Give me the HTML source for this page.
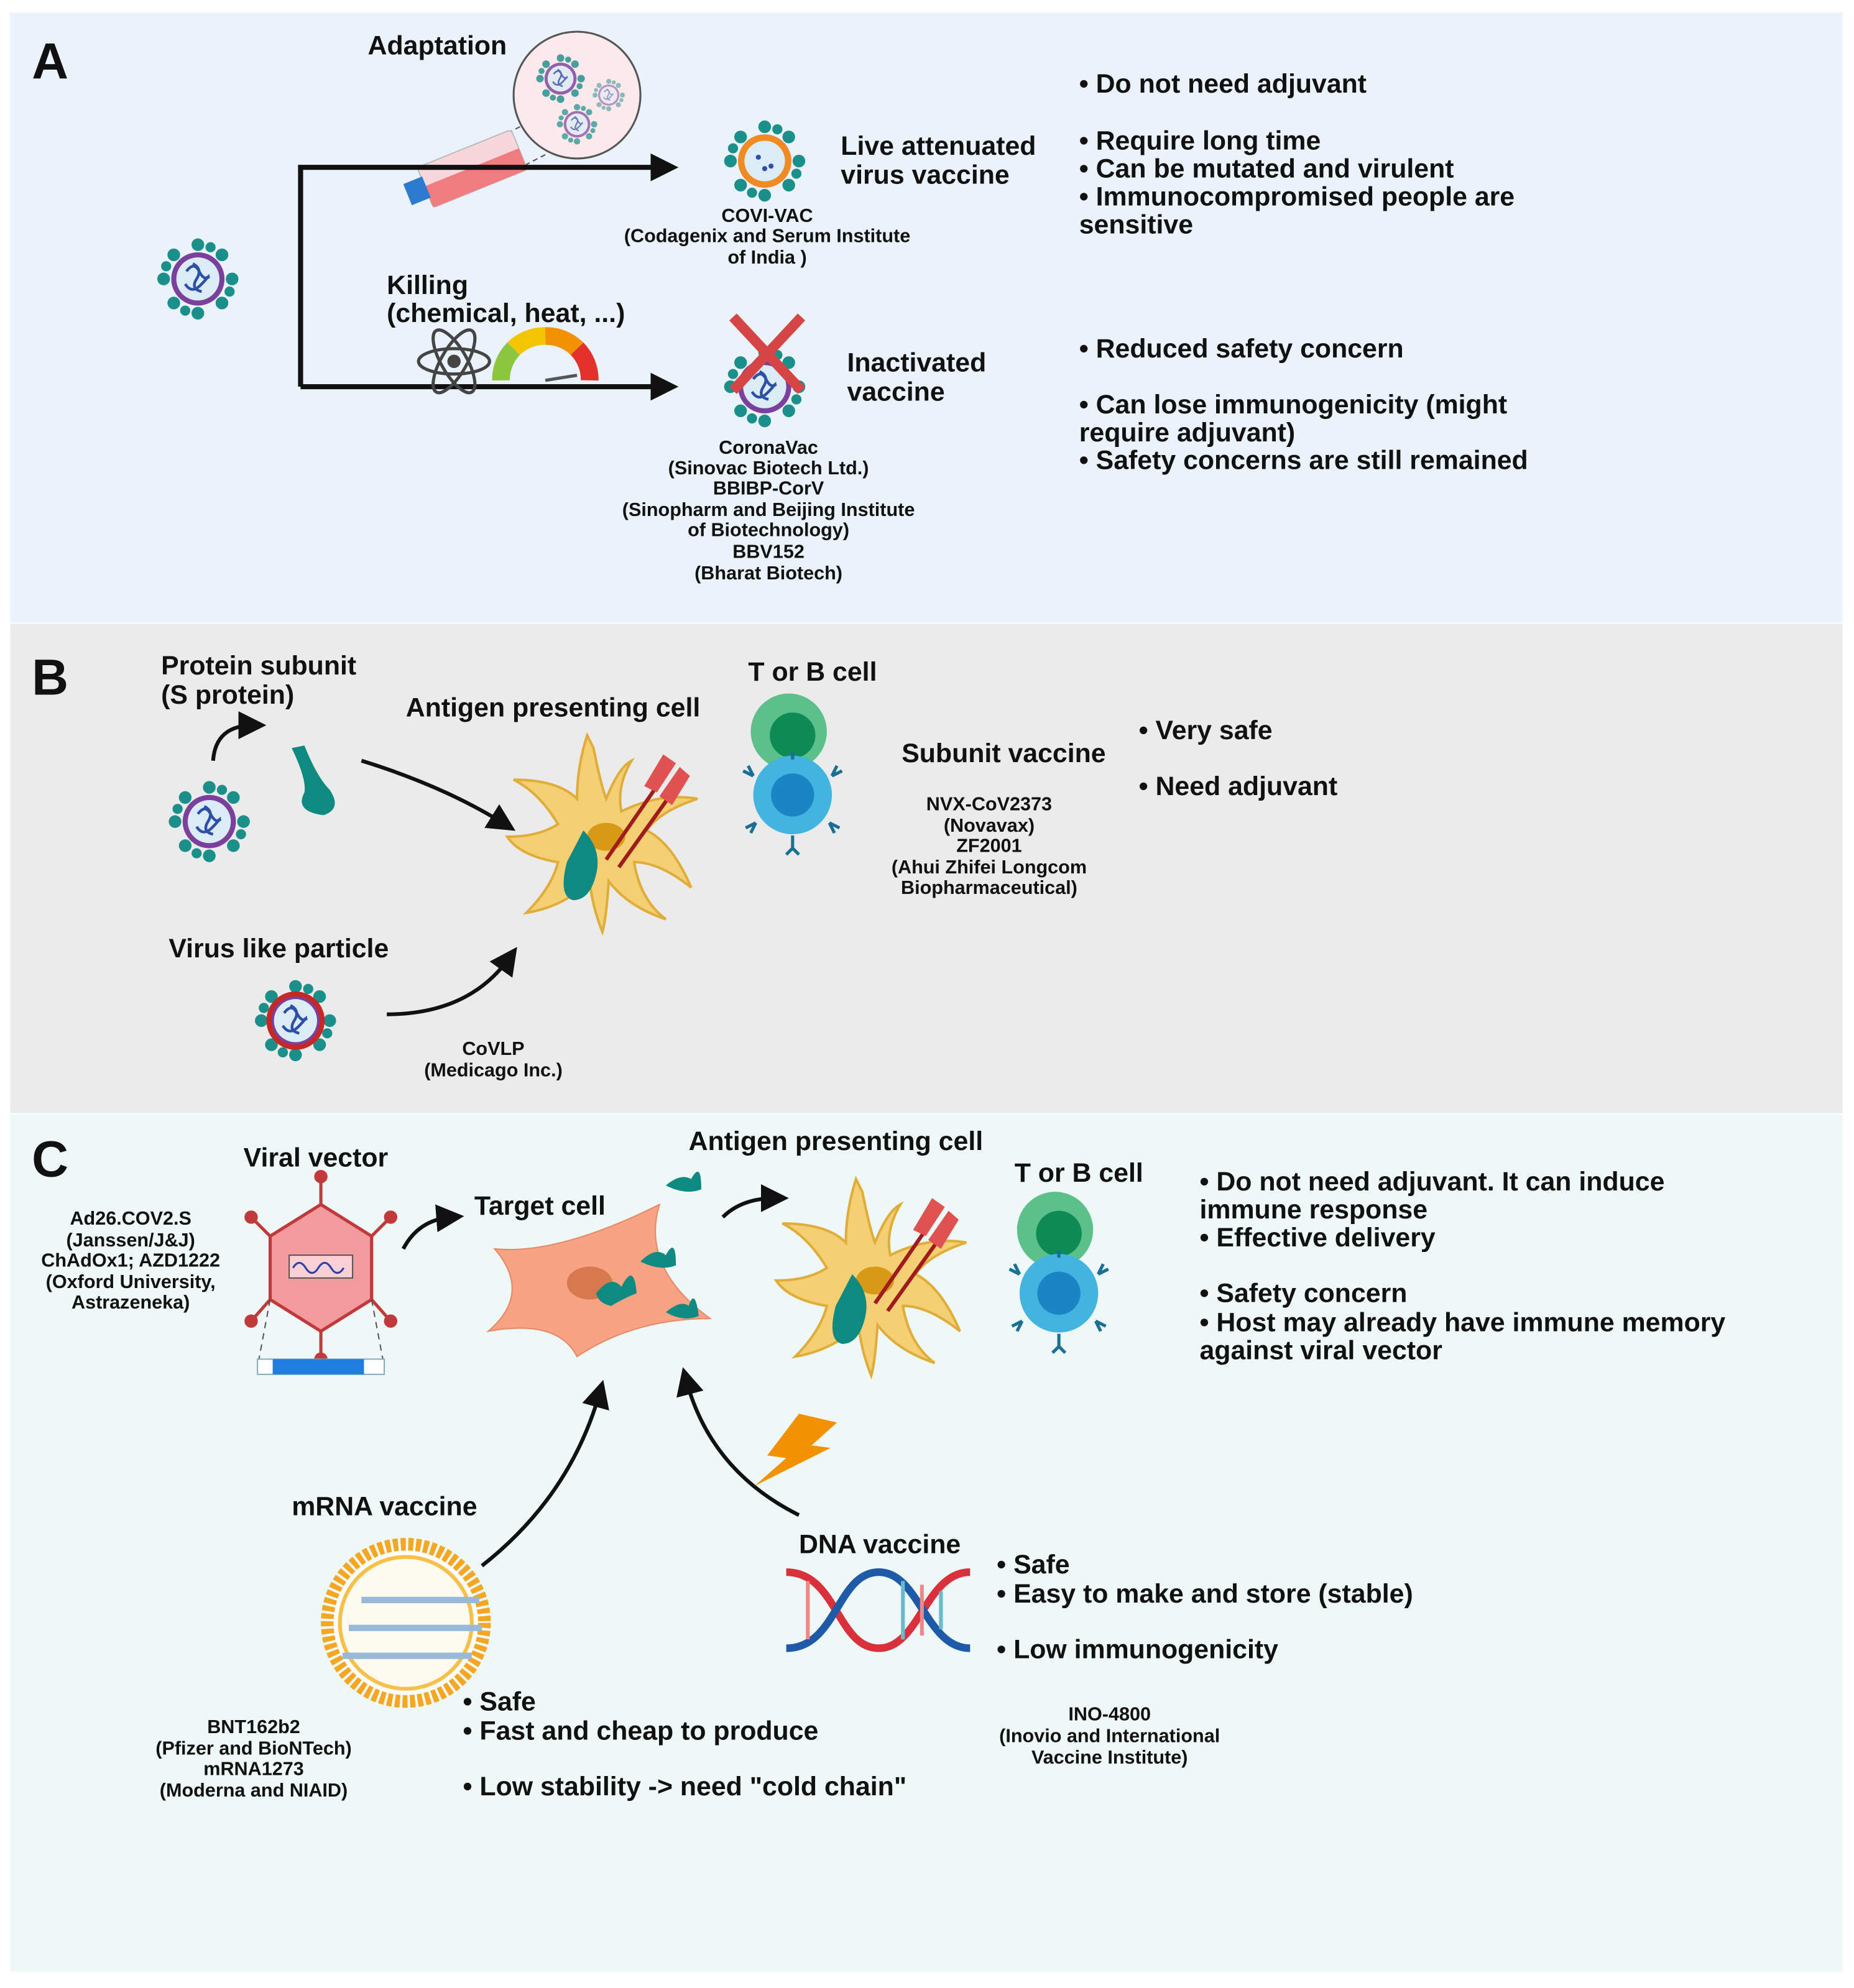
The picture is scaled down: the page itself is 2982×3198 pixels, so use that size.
<!DOCTYPE html>
<html><head><meta charset="utf-8"><style>
html,body{margin:0;padding:0;background:#fff}
svg{display:block}
text{font-family:"Liberation Sans",sans-serif;font-weight:bold;fill:#111}
.b{font-size:21px}.s{font-size:15px}.c{text-anchor:middle}.L{font-size:40px}
</style></head><body>
<svg width="2982" height="3198" viewBox="0 0 1462 1568" xmlns="http://www.w3.org/2000/svg">
<defs>
<marker id="ah" markerWidth="10" markerHeight="10" refX="6" refY="5" orient="auto" markerUnits="userSpaceOnUse" viewBox="0 0 10 10"><path d="M0,0 L10,5 L0,10 z" fill="#111"/></marker>
<marker id="ah2" markerWidth="22" markerHeight="22" refX="12" refY="11" orient="auto" markerUnits="userSpaceOnUse" viewBox="0 0 22 22"><path d="M0,0 L22,11 L0,22 z" fill="#111"/></marker>
<g id="virus">
 <g fill="#1b8f8a">
  <circle cx="0" cy="-27" r="5"/><circle cx="0" cy="27" r="5"/><circle cx="-27" cy="0" r="5"/><circle cx="27" cy="0" r="5"/>
  <circle cx="19" cy="19" r="5"/><circle cx="-19" cy="19" r="5"/><circle cx="19" cy="-19" r="5"/><circle cx="-19" cy="-19" r="5"/>
  <circle cx="10" cy="-25" r="4"/><circle cx="-10" cy="25" r="4"/><circle cx="25" cy="10" r="4"/><circle cx="-25" cy="-10" r="4"/>
 </g>
 <circle r="21" fill="#7b3f9c"/><circle r="17" fill="#dcecf7"/>
 <path d="M-9,-6 q6,-8 10,0 t8,4 M-10,4 q5,8 12,1 t6,-8 M-4,-12 q8,4 3,12 t4,10" stroke="#2d4fa8" stroke-width="2.2" fill="none"/>
</g>
<g id="apc">
 <path d="M-10,-60 q6,30 10,40 q10,-25 20,-30 q-12,20 -8,40 q30,-15 60,-10 q-30,10 -40,25 q20,10 35,45 q-25,-20 -45,-20 q5,30 25,45 q-30,-10 -45,-30 q-2,30 -5,40 q-8,-20 -10,-40 q-20,20 -50,25 q20,-20 25,-40 q-30,-5 -40,-20 q25,0 40,-10 q-15,-25 -35,-35 q35,0 50,15 q0,-25 8,-50z" fill="#f5cf73" stroke="#e0ad3a" stroke-width="2"/>
 <ellipse cx="0" cy="10" rx="15" ry="11" fill="#d89a16"/>
 <path d="M-18,5 q15,15 10,35 q-5,20 -18,20 q-12,-3 -5,-30 z" fill="#0f8a80"/>
 <path d="M0,28 L40,-30 M10,34 L50,-22" stroke="#a01b1b" stroke-width="3"/>
 <path d="M30,-30 L45,-55 L55,-48 L40,-25z M42,-22 L58,-45 L66,-38 L52,-15z" fill="#e05252"/>
</g>
<g id="tcell">
 <circle cx="0" cy="0" r="30" fill="#5cc08a"/><circle cx="3" cy="3" r="18" fill="#0e8a55"/>
 <circle cx="3" cy="50" r="31" fill="#43b3e0"/><circle cx="3" cy="50" r="17" fill="#1985c4"/>
 <g stroke="#1a6f95" stroke-width="2.5" fill="none">
  <path d="M-28,35 l-8,-4 M-28,35 l-4,-8"/><path d="M34,35 l8,-4 M34,35 l4,-8"/>
  <path d="M-26,72 l-8,4 M-26,72 l-4,8"/><path d="M32,72 l8,4 M32,72 l4,8"/>
  <path d="M3,82 v10 M3,92 l-5,5 M3,92 l5,5"/><path d="M3,22 v-6"/>
 </g>
</g>
</defs>
<rect width="1462" height="1568" fill="#fff"/>
<rect x="8" y="10" width="1445" height="481" fill="#eaf3fc"/>
<rect x="8" y="492" width="1445" height="386" fill="#ebebeb"/>
<rect x="8" y="879" width="1445" height="676" fill="#eef8f6"/>

<!-- Panel A -->
<text x="25" y="62" class="L">A</text>
<text x="290" y="43" class="b">Adaptation</text>
<circle cx="455" cy="75" r="50" fill="#fbe9ec" stroke="#555" stroke-width="1.5"/>
<path d="M410,100 L360,125 M430,122 L395,140" stroke="#555" stroke-dasharray="4,3"/>
<use href="#virus" transform="translate(442,62) scale(0.6)" opacity="0.8"/>
<use href="#virus" transform="translate(480,75) scale(0.4)" opacity="0.5"/>
<use href="#virus" transform="translate(455,98) scale(0.5)" opacity="0.7"/>
<g transform="translate(372,132) rotate(-22)">
 <rect x="-40" y="-16" width="80" height="34" rx="3" fill="#f7d7db" stroke="#bbb"/>
 <rect x="-40" y="0" width="80" height="18" fill="#ef7d80"/>
 <rect x="-55" y="-8" width="16" height="18" fill="#2b7ccf"/>
</g>
<path d="M237,305 V132 H525" stroke="#111" stroke-width="4" fill="none" marker-end="url(#ah2)"/>
<path d="M237,305 H525" stroke="#111" stroke-width="4" fill="none" marker-end="url(#ah2)"/>
<use href="#virus" transform="translate(156,220)"/>
<g transform="translate(603,127)">
 <use href="#virus"/><circle r="21" fill="#f28a22"/><circle r="16" fill="#dcecf7"/>
 <circle cx="-5" cy="-3" r="2" fill="#2d4fa8"/><circle cx="5" cy="4" r="2" fill="#2d4fa8"/><circle cx="0" cy="6" r="2" fill="#2d4fa8"/>
</g>
<text x="663" y="122" class="b">Live attenuated</text>
<text x="663" y="145" class="b">virus vaccine</text>
<text x="605" y="175" class="s c">COVI-VAC</text>
<text x="605" y="191" class="s c">(Codagenix and Serum Institute</text>
<text x="605" y="208" class="s c">of India )</text>
<text x="851" y="73" class="b">• Do not need adjuvant</text>
<text x="851" y="118" class="b">• Require long time</text>
<text x="851" y="140" class="b">• Can be mutated and virulent</text>
<text x="851" y="162" class="b">• Immunocompromised people are</text>
<text x="851" y="184" class="b">sensitive</text>
<text x="305" y="232" class="b">Killing</text>
<text x="305" y="254" class="b">(chemical, heat, ...)</text>
<g transform="translate(358,285)" stroke="#444" stroke-width="2.5" fill="none">
 <ellipse rx="28" ry="10"/><ellipse rx="28" ry="10" transform="rotate(60)"/><ellipse rx="28" ry="10" transform="rotate(-60)"/>
 <circle r="4" fill="#444"/>
</g>
<g transform="translate(430,300)" fill="none" stroke-width="14">
 <path d="M-35,0 A35,35 0 0 1 -25,-25" stroke="#8cc63f"/>
 <path d="M-25,-25 A35,35 0 0 1 0,-35" stroke="#f2c500"/>
 <path d="M0,-35 A35,35 0 0 1 25,-25" stroke="#f39200"/>
 <path d="M25,-25 A35,35 0 0 1 35,0" stroke="#e4312b"/>
 <path d="M0,0 L25,-4" stroke="#555" stroke-width="2.5"/>
</g>
<use href="#virus" transform="translate(603,305)"/>
<path d="M578,250 L632,308 M632,250 L578,308" stroke="#d64545" stroke-width="8"/>
<text x="668" y="293" class="b">Inactivated</text>
<text x="668" y="316" class="b">vaccine</text>
<text x="606" y="358" class="s c">CoronaVac</text>
<text x="606" y="374" class="s c">(Sinovac Biotech Ltd.)</text>
<text x="606" y="390" class="s c">BBIBP-CorV</text>
<text x="606" y="407" class="s c">(Sinopharm and Beijing Institute</text>
<text x="606" y="423" class="s c">of Biotechnology)</text>
<text x="606" y="440" class="s c">BBV152</text>
<text x="606" y="457" class="s c">(Bharat Biotech)</text>
<text x="851" y="282" class="b">• Reduced safety concern</text>
<text x="851" y="326" class="b">• Can lose immunogenicity (might</text>
<text x="851" y="348" class="b">require adjuvant)</text>
<text x="851" y="370" class="b">• Safety concerns are still remained</text>

<!-- Panel B -->
<text x="25" y="548" class="L">B</text>
<text x="127" y="532" class="b">Protein subunit</text>
<text x="127" y="555" class="b">(S protein)</text>
<use href="#virus" transform="translate(165,648)"/>
<path d="M168,600 Q170,572 200,572" stroke="#111" stroke-width="3" fill="none" marker-end="url(#ah2)"/>
<path d="M230,590 q12,25 10,35 q-8,15 15,18 q15,-5 5,-20 q-10,-10 -20,-35z" fill="#0f8a80"/>
<text x="320" y="565" class="b">Antigen presenting cell</text>
<path d="M285,600 Q350,620 398,650" stroke="#111" stroke-width="3" fill="none" marker-end="url(#ah2)"/>
<use href="#apc" transform="translate(478,650)"/>
<text x="590" y="537" class="b">T or B cell</text>
<use href="#tcell" transform="translate(622,577)"/>
<text x="711" y="601" class="b">Subunit vaccine</text>
<text x="780" y="639" class="s c">NVX-CoV2373</text>
<text x="780" y="656" class="s c">(Novavax)</text>
<text x="780" y="672" class="s c">ZF2001</text>
<text x="780" y="689" class="s c">(Ahui Zhifei Longcom</text>
<text x="780" y="705" class="s c">Biopharmaceutical)</text>
<text x="898" y="583" class="b">• Very safe</text>
<text x="898" y="627" class="b">• Need adjuvant</text>
<text x="133" y="755" class="b">Virus like particle</text>
<g transform="translate(233,805)"><use href="#virus"/><circle r="21" fill="none" stroke="#c62828" stroke-width="4"/></g>
<path d="M305,800 Q370,800 402,755" stroke="#111" stroke-width="3" fill="none" marker-end="url(#ah2)"/>
<text x="389" y="832" class="s c">CoVLP</text>
<text x="389" y="849" class="s c">(Medicago Inc.)</text>

<!-- Panel C -->
<text x="25" y="928" class="L">C</text>
<text x="192" y="920" class="b">Viral vector</text>
<text x="103" y="966" class="s c">Ad26.COV2.S</text>
<text x="103" y="983" class="s c">(Janssen/J&amp;J)</text>
<text x="103" y="999" class="s c">ChAdOx1; AZD1222</text>
<text x="103" y="1016" class="s c">(Oxford University,</text>
<text x="103" y="1032" class="s c">Astrazeneka)</text>
<g transform="translate(253,1000)">
 <g stroke="#c0393b" stroke-width="2.5" fill="#c0393b">
  <line x1="0" y1="-50" x2="0" y2="-72"/><circle cx="0" cy="-72" r="4"/>
  <line x1="0" y1="50" x2="0" y2="72"/><circle cx="0" cy="72" r="4"/>
  <line x1="-40" y1="-25" x2="-55" y2="-40"/><circle cx="-55" cy="-40" r="4"/>
  <line x1="40" y1="-25" x2="55" y2="-40"/><circle cx="55" cy="-40" r="4"/>
  <line x1="-40" y1="25" x2="-55" y2="42"/><circle cx="-55" cy="42" r="4"/>
  <line x1="40" y1="25" x2="55" y2="42"/><circle cx="55" cy="42" r="4"/>
 </g>
 <polygon points="0,-50 40,-25 40,25 0,50 -40,25 -40,-25" fill="#f29a9e" stroke="#c0393b" stroke-width="2.5"/>
 <rect x="-25" y="-10" width="50" height="18" fill="#fbd0d4" stroke="#555"/>
 <path d="M-22,0 q5,-8 10,0 t10,0 t10,0 t10,0" stroke="#2d3fa8" stroke-width="1.5" fill="none"/>
 <path d="M-40,25 L-50,78 M40,25 L50,78" stroke="#555" stroke-dasharray="5,4"/>
</g>
<rect x="203" y="1072" width="100" height="12" fill="#fff" stroke="#8ab"/>
<rect x="215" y="1072" width="72" height="12" fill="#1e7fe0"/>
<path d="M318,985 Q330,962 356,960" stroke="#111" stroke-width="3" fill="none" marker-end="url(#ah2)"/>
<text x="374" y="958" class="b">Target cell</text>
<path d="M390,985 Q440,990 520,950 Q505,1000 560,1040 Q500,1040 455,1070 Q440,1040 385,1050 Q420,1020 390,985z" fill="#f7a384" stroke="#e88865"/>
<ellipse cx="465" cy="1012" rx="18" ry="13" fill="#d8784f"/>
<path d="M470,1020 q12,-15 20,-5 q10,-20 12,5 q-12,5 -20,10 q-10,-2 -12,-10z" fill="#0f8a80"/>
<path d="M505,995 q12,-12 20,-5 q8,-15 8,8 q-12,5 -28,-3z" fill="#0f8a80"/>
<path d="M525,1035 q12,-10 18,-5 q5,-15 8,8 q-12,5 -26,-3z" fill="#0f8a80"/>
<path d="M525,935 q12,-10 20,-5 q8,-15 8,8 q-12,5 -28,-3z" fill="#0f8a80"/>
<text x="543" y="907" class="b">Antigen presenting cell</text>
<path d="M570,960 Q585,945 612,945" stroke="#111" stroke-width="3" fill="none" marker-end="url(#ah2)"/>
<use href="#apc" transform="translate(690,1000)"/>
<text x="800" y="932" class="b">T or B cell</text>
<use href="#tcell" transform="translate(832,970)"/>
<text x="946" y="939" class="b">• Do not need adjuvant. It can induce</text>
<text x="946" y="961" class="b">immune response</text>
<text x="946" y="983" class="b">• Effective delivery</text>
<text x="946" y="1027" class="b">• Safety concern</text>
<text x="946" y="1050" class="b">• Host may already have immune memory</text>
<text x="946" y="1072" class="b">against viral vector</text>
<path d="M380,1235 Q450,1180 473,1098" stroke="#111" stroke-width="3" fill="none" marker-end="url(#ah2)"/>
<path d="M630,1195 Q560,1160 541,1088" stroke="#111" stroke-width="3" fill="none" marker-end="url(#ah2)"/>
<polygon points="630,1115 660,1122 640,1140 655,1142 595,1172 620,1150 605,1148" fill="#f39200"/>
<text x="230" y="1195" class="b">mRNA vaccine</text>
<circle cx="320" cy="1280" r="62" fill="#fff" stroke="#f5a623" stroke-width="10" stroke-dasharray="4,2"/>
<circle cx="320" cy="1280" r="52" fill="#fdfaf0" stroke="#f7c04a" stroke-width="3"/>
<g stroke="#9ab8d8" stroke-width="5"><line x1="285" y1="1262" x2="378" y2="1262"/><line x1="275" y1="1284" x2="380" y2="1284"/><line x1="270" y1="1306" x2="372" y2="1306"/></g>
<text x="365" y="1349" class="b">• Safe</text>
<text x="365" y="1372" class="b">• Fast and cheap to produce</text>
<text x="365" y="1416" class="b">• Low stability -&gt; need "cold chain"</text>
<text x="200" y="1367" class="s c">BNT162b2</text>
<text x="200" y="1384" class="s c">(Pfizer and BioNTech)</text>
<text x="200" y="1400" class="s c">mRNA1273</text>
<text x="200" y="1417" class="s c">(Moderna and NIAID)</text>
<text x="630" y="1225" class="b">DNA vaccine</text>
<g fill="none" stroke-width="6">
 <path d="M620,1240 C660,1240 660,1300 693,1300 C725,1300 730,1240 765,1240" stroke="#d9303b"/>
 <path d="M620,1300 C660,1300 660,1240 693,1240 C725,1240 730,1300 765,1300" stroke="#1f5aa8"/>
</g>
<g stroke-width="3"><line x1="637" y1="1247" x2="637" y2="1293" stroke="#e88"/><line x1="712" y1="1247" x2="712" y2="1293" stroke="#6bc"/><line x1="727" y1="1250" x2="727" y2="1290" stroke="#e88"/><line x1="742" y1="1255" x2="742" y2="1285" stroke="#6bc"/></g>
<text x="786" y="1241" class="b">• Safe</text>
<text x="786" y="1264" class="b">• Easy to make and store (stable)</text>
<text x="786" y="1308" class="b">• Low immunogenicity</text>
<text x="875" y="1357" class="s c">INO-4800</text>
<text x="875" y="1374" class="s c">(Inovio and International</text>
<text x="875" y="1391" class="s c">Vaccine Institute)</text>
</svg>
</body></html>
